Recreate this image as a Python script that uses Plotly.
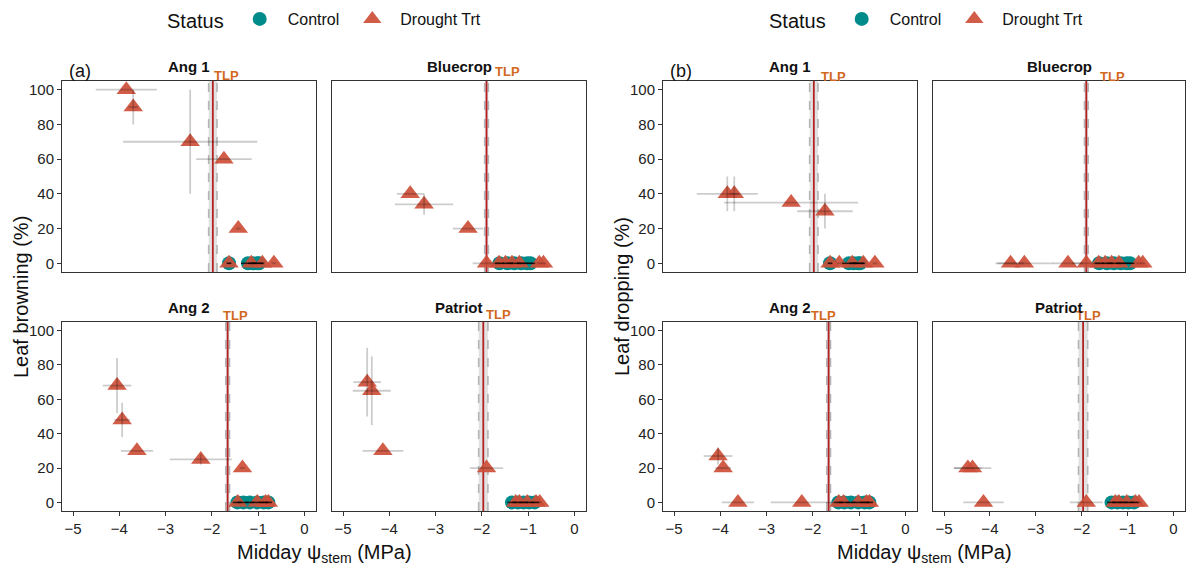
import plotly.graph_objects as go

# ---------------- data ----------------
cultivars = ["Ang 1", "Bluecrop", "Ang 2", "Patriot"]
tlp = [-1.98, -1.90, -1.66, -1.97]          # turgor loss point (MPa)
tlp_sd = [0.09, 0.04, 0.04, 0.10]

x_ticks = [-5, -4, -3, -2, -1, 0]
y_ticks = [0, 20, 40, 60, 80, 100]

# Drought-treated plants: midday stem water potential (MPa) and SD
dr_x = [
    [-3.85, -3.70, -2.47, -1.74, -1.43, -1.63, -1.15, -0.91, -0.66],
    [-3.55, -3.25, -2.30, -1.90, -1.63, -1.49, -1.35, -1.19, -0.76, -0.67],
    [-4.05, -3.94, -3.62, -2.24, -1.34, -1.44, -1.02, -0.84, -0.78],
    [-4.48, -4.38, -4.14, -1.90, -1.27, -1.19, -1.02, -0.83, -0.75],
]
dr_xsd = [
    [0.66, 0.10, 1.45, 0.60, 0.05, 0.05, 0.05, 0.05, 0.05],
    [0.29, 0.63, 0.33, 0.30, 0.05, 0.05, 0.05, 0.05, 0.05, 0.05],
    [0.31, 0.17, 0.35, 0.67, 0.05, 0.05, 0.05, 0.05, 0.05],
    [0.30, 0.41, 0.44, 0.36, 0.05, 0.05, 0.05, 0.05, 0.05],
]
# Leaf browning (%) of drought-treated plants and SD
brown_y = [
    [100, 90, 70, 60, 20, 0, 0, 0, 0],
    [40, 34, 20, 0, 0, 0, 0, 0, 0, 0],
    [68, 48, 30, 25, 20, 0, 0, 0, 0],
    [70, 65, 30, 20, 0, 0, 0, 0, 0],
]
brown_ysd = [
    [0, 10, 30, 0, 0, 0, 0, 0, 0],
    [0, 6, 0, 0, 0, 0, 0, 0, 0, 0],
    [16, 10, 0, 3, 0, 0, 0, 0, 0],
    [20, 20, 0, 0, 0, 0, 0, 0, 0],
]
# Leaf dropping (%) of drought-treated plants and SD
drop_y = [
    [40, 40, 35, 30, 0, 0, 0, 0, 0],
    [0, 0, 0, 0, 0, 0, 0, 0, 0, 0],
    [27, 20, 0, 0, 0, 0, 0, 0, 0],
    [20, 20, 0, 0, 0, 0, 0, 0, 0],
]
drop_ysd = [
    [10, 10, 0, 10, 0, 0, 0, 0, 0],
    [0, 0, 0, 0, 0, 0, 0, 0, 0, 0],
    [5, 0, 0, 0, 0, 0, 0, 0, 0],
    [0, 0, 0, 0, 0, 0, 0, 0, 0],
]
# Control plants
ct_x = [
    [-1.63, -1.22, -1.12, -1.02, -0.98],
    [-1.62, -1.45, -1.30, -1.15, -1.02, -0.95],
    [-1.45, -1.32, -1.18, -1.02, -0.88, -0.78],
    [-1.35, -1.22, -1.10, -0.98, -0.86],
]
ct_xsd = [
    [0.05, 0.15, 0.10, 0.12, 0.10],
    [0.10, 0.12, 0.15, 0.10, 0.12, 0.10],
    [0.10, 0.12, 0.10, 0.15, 0.10, 0.08],
    [0.10, 0.12, 0.10, 0.12, 0.10],
]
ct_brown_y = [[0, 0, 0, 0, 0], [0, 0, 0, 0, 0, 0], [0, 0, 0, 0, 0, 0], [0, 0, 0, 0, 0]]
ct_drop_y = [[0, 0, 0, 0, 0], [0, 0, 0, 0, 0, 0], [0, 0, 0, 0, 0, 0], [0, 0, 0, 0, 0]]

panel_labels = ["(a)", "(b)"]
y_titles = ["Leaf browning (%)", "Leaf dropping (%)"]
x_title = "Midday ψ<sub>stem</sub> (MPa)"

# ---------------- style / layout ----------------
W, H = 1186, 569
TEAL = "#008B8B"
RED = "#CD4F39"
FONT = "Liberation Sans, Arial, sans-serif"
col_px = [[(62, 316), (332, 586)], [(663, 917), (933, 1185)]]
row_px = [(81, 272), (322, 511)]
# TLP label placement: x (data units) and pixels above the panel top
tlp_lab = [[(-1.69, 6), (-1.44, 9), (-1.48, 7), (-1.64, 8)],
           [(-1.55, 5), (-1.34, 5), (-1.78, 7), (-1.86, 7)]]


def px_x(p):
    return p / W


def px_y(p):
    return 1 - p / H


fig = go.Figure()
layout = {}
shapes = []
annotations = []


def note(text, x, y, size, color="#111", xref="paper", angle=0):
    annotations.append(dict(text=text, xref=xref, yref="paper", x=x, y=y, showarrow=False,
                            xanchor="center", yanchor="middle", textangle=angle,
                            font=dict(family=FONT, size=size, color=color)))


responses = [(brown_y, brown_ysd, ct_brown_y), (drop_y, drop_ysd, ct_drop_y)]

for p in range(2):
    ys, ysds, cty = responses[p]
    for c in range(4):
        k = p * 4 + c
        n = "" if k == 0 else str(k + 1)
        row, col = c // 2, c % 2
        xa, ya = "x" + n, "y" + n
        x0, x1 = col_px[p][col]
        yt, yb = row_px[row]
        show_x = row == 1
        show_y = col == 0
        layout["xaxis" + n] = dict(
            domain=[px_x(x0), px_x(x1)], anchor=ya, range=[-5.24, 0.25],
            tickvals=x_ticks, showticklabels=show_x, ticks="outside" if show_x else "",
            ticklen=4, tickcolor="#333", showgrid=False, zeroline=False,
            showline=True, mirror=True, linecolor="#333", linewidth=1,
            tickfont=dict(family=FONT, size=15, color="#222"))
        layout["yaxis" + n] = dict(
            domain=[px_y(yb), px_y(yt)], anchor=xa, range=[-5, 105],
            tickvals=y_ticks, showticklabels=show_y, ticks="outside" if show_y else "",
            ticklen=4, tickcolor="#333", showgrid=False, zeroline=False,
            showline=True, mirror=True, linecolor="#333", linewidth=1,
            tickfont=dict(family=FONT, size=15, color="#222"))

        lg = "legend" if p == 0 else "legend2"
        # control markers
        fig.add_trace(go.Scatter(
            x=ct_x[c], y=cty[c], mode="markers", xaxis=xa, yaxis=ya,
            marker=dict(symbol="circle", size=14, color=TEAL),
            name="Control", legend=lg, showlegend=(c == 0), legendrank=1))
        # drought markers
        fig.add_trace(go.Scatter(
            x=dr_x[c], y=ys[c], mode="markers", xaxis=xa, yaxis=ya,
            marker=dict(symbol="triangle-up", size=17, color=RED, opacity=0.92),
            name="Drought Trt", legend=lg, showlegend=(c == 0), legendrank=2))
        # error bars on top
        fig.add_trace(go.Scatter(
            x=ct_x[c], y=cty[c], mode="markers", xaxis=xa, yaxis=ya,
            marker=dict(size=1, color="rgba(0,0,0,0)"),
            error_x=dict(type="data", array=ct_xsd[c], color="rgba(0,0,0,0.75)", thickness=1.5, width=0),
            showlegend=False, hoverinfo="skip"))
        fig.add_trace(go.Scatter(
            x=dr_x[c], y=ys[c], mode="markers", xaxis=xa, yaxis=ya,
            marker=dict(size=1, color="rgba(0,0,0,0)"),
            error_x=dict(type="data", array=dr_xsd[c], color="rgba(0,0,0,0.2)", thickness=1.8, width=0),
            error_y=dict(type="data", array=ysds[c], color="rgba(0,0,0,0.2)", thickness=1.8, width=0),
            showlegend=False, hoverinfo="skip"))

        # TLP band and lines
        lo, hi = tlp[c] - tlp_sd[c], tlp[c] + tlp_sd[c]
        shapes.append(dict(type="rect", xref=xa, yref=ya + " domain", x0=lo, x1=hi, y0=0, y1=1,
                           fillcolor="rgba(150,150,150,0.28)", line=dict(width=0), layer="below"))
        for xv in (lo, hi):
            shapes.append(dict(type="line", xref=xa, yref=ya + " domain", x0=xv, x1=xv, y0=0, y1=1,
                               line=dict(color="#B4B4B4", width=1.6, dash="dash"), layer="below"))
        shapes.append(dict(type="line", xref=xa, yref=ya + " domain", x0=tlp[c], x1=tlp[c], y0=0, y1=1,
                           line=dict(color="#B22222", width=1.8), layer="below"))
        lx, dy = tlp_lab[p][c]
        note("<b>TLP</b>", lx, px_y(yt - dy), 13, color="#D2691E", xref=xa)
        # facet title
        note("<b>%s</b>" % cultivars[c], px_x((x0 + x1) / 2), px_y(yt - 15), 15)

    # panel label, axis titles
    note(panel_labels[p], px_x(col_px[p][0][0] + 18), px_y(71), 18)
    note(y_titles[p], px_x(col_px[p][0][0] - 41), px_y(297), 20, angle=-90)
    note(x_title, px_x((col_px[p][0][0] + col_px[p][1][1]) / 2), px_y(553), 20)

legend_style = dict(orientation="h", xanchor="left", yanchor="top", itemwidth=46,
                    title=dict(text="Status", side="left", font=dict(family=FONT, size=20, color="#111")),
                    font=dict(family=FONT, size=16, color="#111"), bgcolor="rgba(0,0,0,0)",
                    traceorder="normal")
layout["legend"] = dict(legend_style, x=px_x(165), y=px_y(2))
layout["legend2"] = dict(legend_style, x=px_x(767), y=px_y(2))

fig.update_layout(**layout)
fig.update_layout(width=W, height=H, margin=dict(l=0, r=0, t=0, b=0),
                  plot_bgcolor="white", paper_bgcolor="white",
                  shapes=shapes, annotations=annotations,
                  font=dict(family=FONT, color="#111"))
fig.write_html("out.html")
